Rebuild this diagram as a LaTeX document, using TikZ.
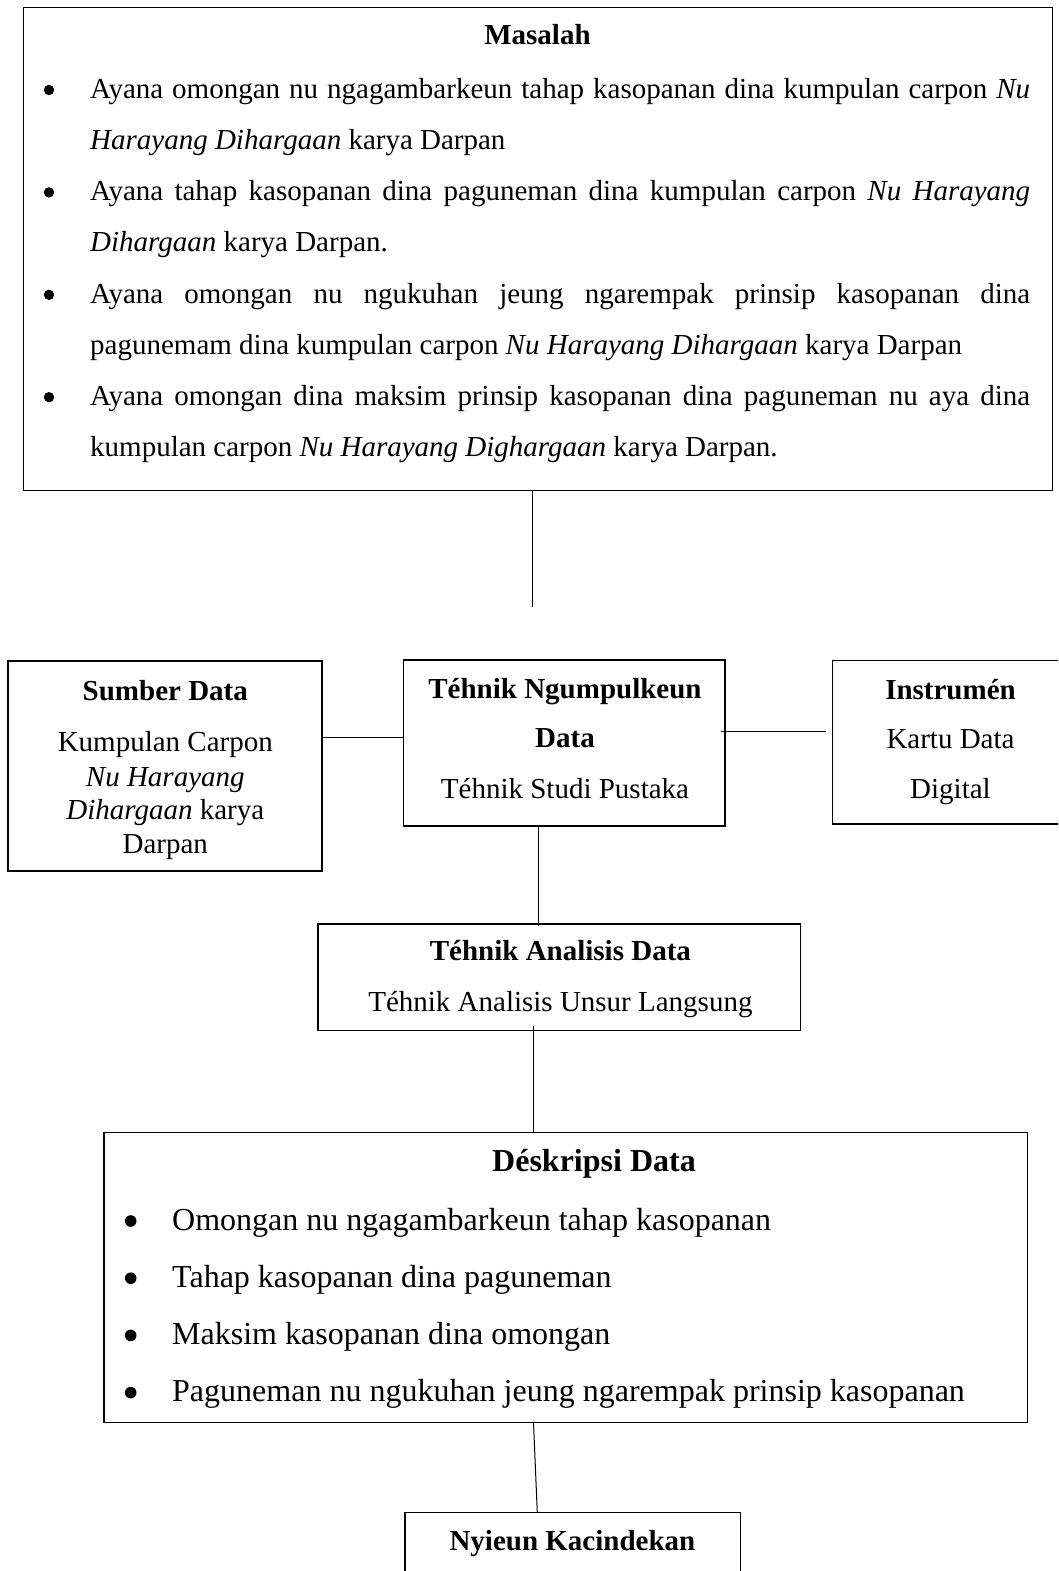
\documentclass[tikz,border=0pt]{standalone}
\usepackage{fontspec}
\setmainfont{Liberation Serif}
\newcommand{\bulA}{\par\noindent}
\tikzset{
  box/.style={draw=black, line width=1.3pt, inner sep=0pt, outer sep=0pt, anchor=north west},
  txt/.style={anchor=base, inner sep=0pt, font=\fontsize{29}{34}\selectfont},
  bld/.style={anchor=base, inner sep=0pt, font=\fontsize{29}{34}\selectfont\bfseries},
  bigbld/.style={anchor=base, inner sep=0pt, font=\fontsize{32}{38}\selectfont\bfseries},
  link/.style={draw=black, line width=1pt},
  bulletdot/.style={fill=black}
}
\begin{document}
\begin{tikzpicture}[x=1pt,y=-1pt]
\useasboundingbox (0,0) rectangle (1058,1571);
\clip (0,0) rectangle (1058,1571);

% ---------- boxes ----------
\node[box, minimum width=1029pt, minimum height=483pt] (masalah) at (23.5,7.5) {};
\node[box, minimum width=314pt, minimum height=210pt] (sumber) at (8,661) {};
\node[box, minimum width=321.5pt, minimum height=166pt] (teknik) at (403.5,660) {};
\node[box, minimum width=300pt, minimum height=163.5pt] (instr) at (832.3,660.5) {};
\node[box, minimum width=482.7pt, minimum height=106.7pt] (analisis) at (318,924) {};
\node[box, minimum width=923.6pt, minimum height=290pt] (desk) at (104,1132.7) {};
\node[box, minimum width=335.7pt, minimum height=100pt] (nyieun) at (405,1512.7) {};

% ---------- Masalah ----------
\node[bld] (masalah-h) at (537.5,44.3) {Masalah};
\node[anchor=base west, inner sep=0pt] (masalah-list) at (90,98.3) {%
\begin{minipage}[t]{940pt}\fontsize{29}{51.2}\selectfont
\bulA Ayana omongan nu ngagambarkeun tahap kasopanan dina kumpulan carpon \textit{Nu}\linebreak
\textit{Harayang Dihargaan} karya Darpan
\bulA Ayana tahap kasopanan dina paguneman dina kumpulan carpon \textit{Nu Harayang}\linebreak
\textit{Dihargaan} karya Darpan.
\bulA Ayana omongan nu ngukuhan jeung ngarempak prinsip kasopanan dina\linebreak
pagunemam dina kumpulan carpon \textit{Nu Harayang Dihargaan} karya Darpan
\bulA Ayana omongan dina maksim prinsip kasopanan dina paguneman nu aya dina\linebreak
kumpulan carpon \textit{Nu Harayang Dighargaan} karya Darpan.
\end{minipage}};
\foreach \k in {0,1,2,3}
  \fill[bulletdot] (49,{90+102.4*\k}) circle (5.2pt);

% ---------- Sumber Data ----------
\node[bld] (sumber-h) at (165.3,700.7) {Sumber Data};
\node[txt] (sumber-1) at (165.3,751.7) {Kumpulan Carpon};
\node[txt] (sumber-2) at (165.3,786) {\textit{Nu Harayang}};
\node[txt] (sumber-3) at (165.3,819.5) {\textit{Dihargaan} karya};
\node[txt] (sumber-4) at (165.3,853) {Darpan};

% ---------- Tehnik Ngumpulkeun Data ----------
\node[bld] (teknik-h1) at (565,698.3) {Téhnik Ngumpulkeun};
\node[bld] (teknik-h2) at (565,747.7) {Data};
\node[txt] (teknik-1) at (565,798.3) {Téhnik Studi Pustaka};

% ---------- Instrumen ----------
\node[bld] (instr-h) at (950.5,699) {Instrumén};
\node[txt] (instr-1) at (950.5,748.3) {Kartu Data};
\node[txt] (instr-2) at (950.5,798.3) {Digital};

% ---------- Tehnik Analisis Data ----------
\node[bld] (analisis-h) at (560.4,960.7) {Téhnik Analisis Data};
\node[txt] (analisis-1) at (560.4,1011.7) {Téhnik Analisis Unsur Langsung};

% ---------- Deskripsi Data ----------
\node[bigbld] (desk-h) at (594,1171.7) {Déskripsi Data};
\node[anchor=base west, inner sep=0pt] (desk-list) at (172,1230) {%
\begin{minipage}[t]{850pt}\fontsize{32}{57.2}\selectfont\raggedright
\bulA Omongan nu ngagambarkeun tahap kasopanan
\bulA Tahap kasopanan dina paguneman
\bulA Maksim kasopanan dina omongan
\bulA Paguneman nu ngukuhan jeung ngarempak prinsip kasopanan
\end{minipage}};
\foreach \k in {0,1,2,3}
  \fill[bulletdot] (130.7,{1221+57.2*\k}) circle (5.8pt);

% ---------- Nyieun Kacindekan ----------
\node[bld] (nyieun-h) at (572.4,1550.7) {Nyieun Kacindekan};

% ---------- connectors ----------
\coordinate (topend) at (532.4,607);
\draw[link] (masalah.south -| topend) -- (topend);

\coordinate (h1) at (0,737.7);
\draw[link] (sumber.east |- h1) -- (teknik.west |- h1);

\coordinate (h2) at (0,731.5);
\draw[link] ([xshift=-4.5pt]teknik.east |- h2) -- ([xshift=-6.5pt]instr.west |- h2);

\coordinate (v2) at (538,0);
\draw[link] (teknik.south -| v2) -- ([yshift=-2pt]analisis.north -| v2);

\coordinate (v3) at (533,0);
\draw[link] ([yshift=5pt]analisis.south -| v3) -- (desk.north -| v3);

\coordinate (v4a) at (533.5,0);
\coordinate (v4b) at (537.3,0);
\draw[link] (desk.south -| v4a) -- (nyieun.north -| v4b);
\end{tikzpicture}
\end{document}
